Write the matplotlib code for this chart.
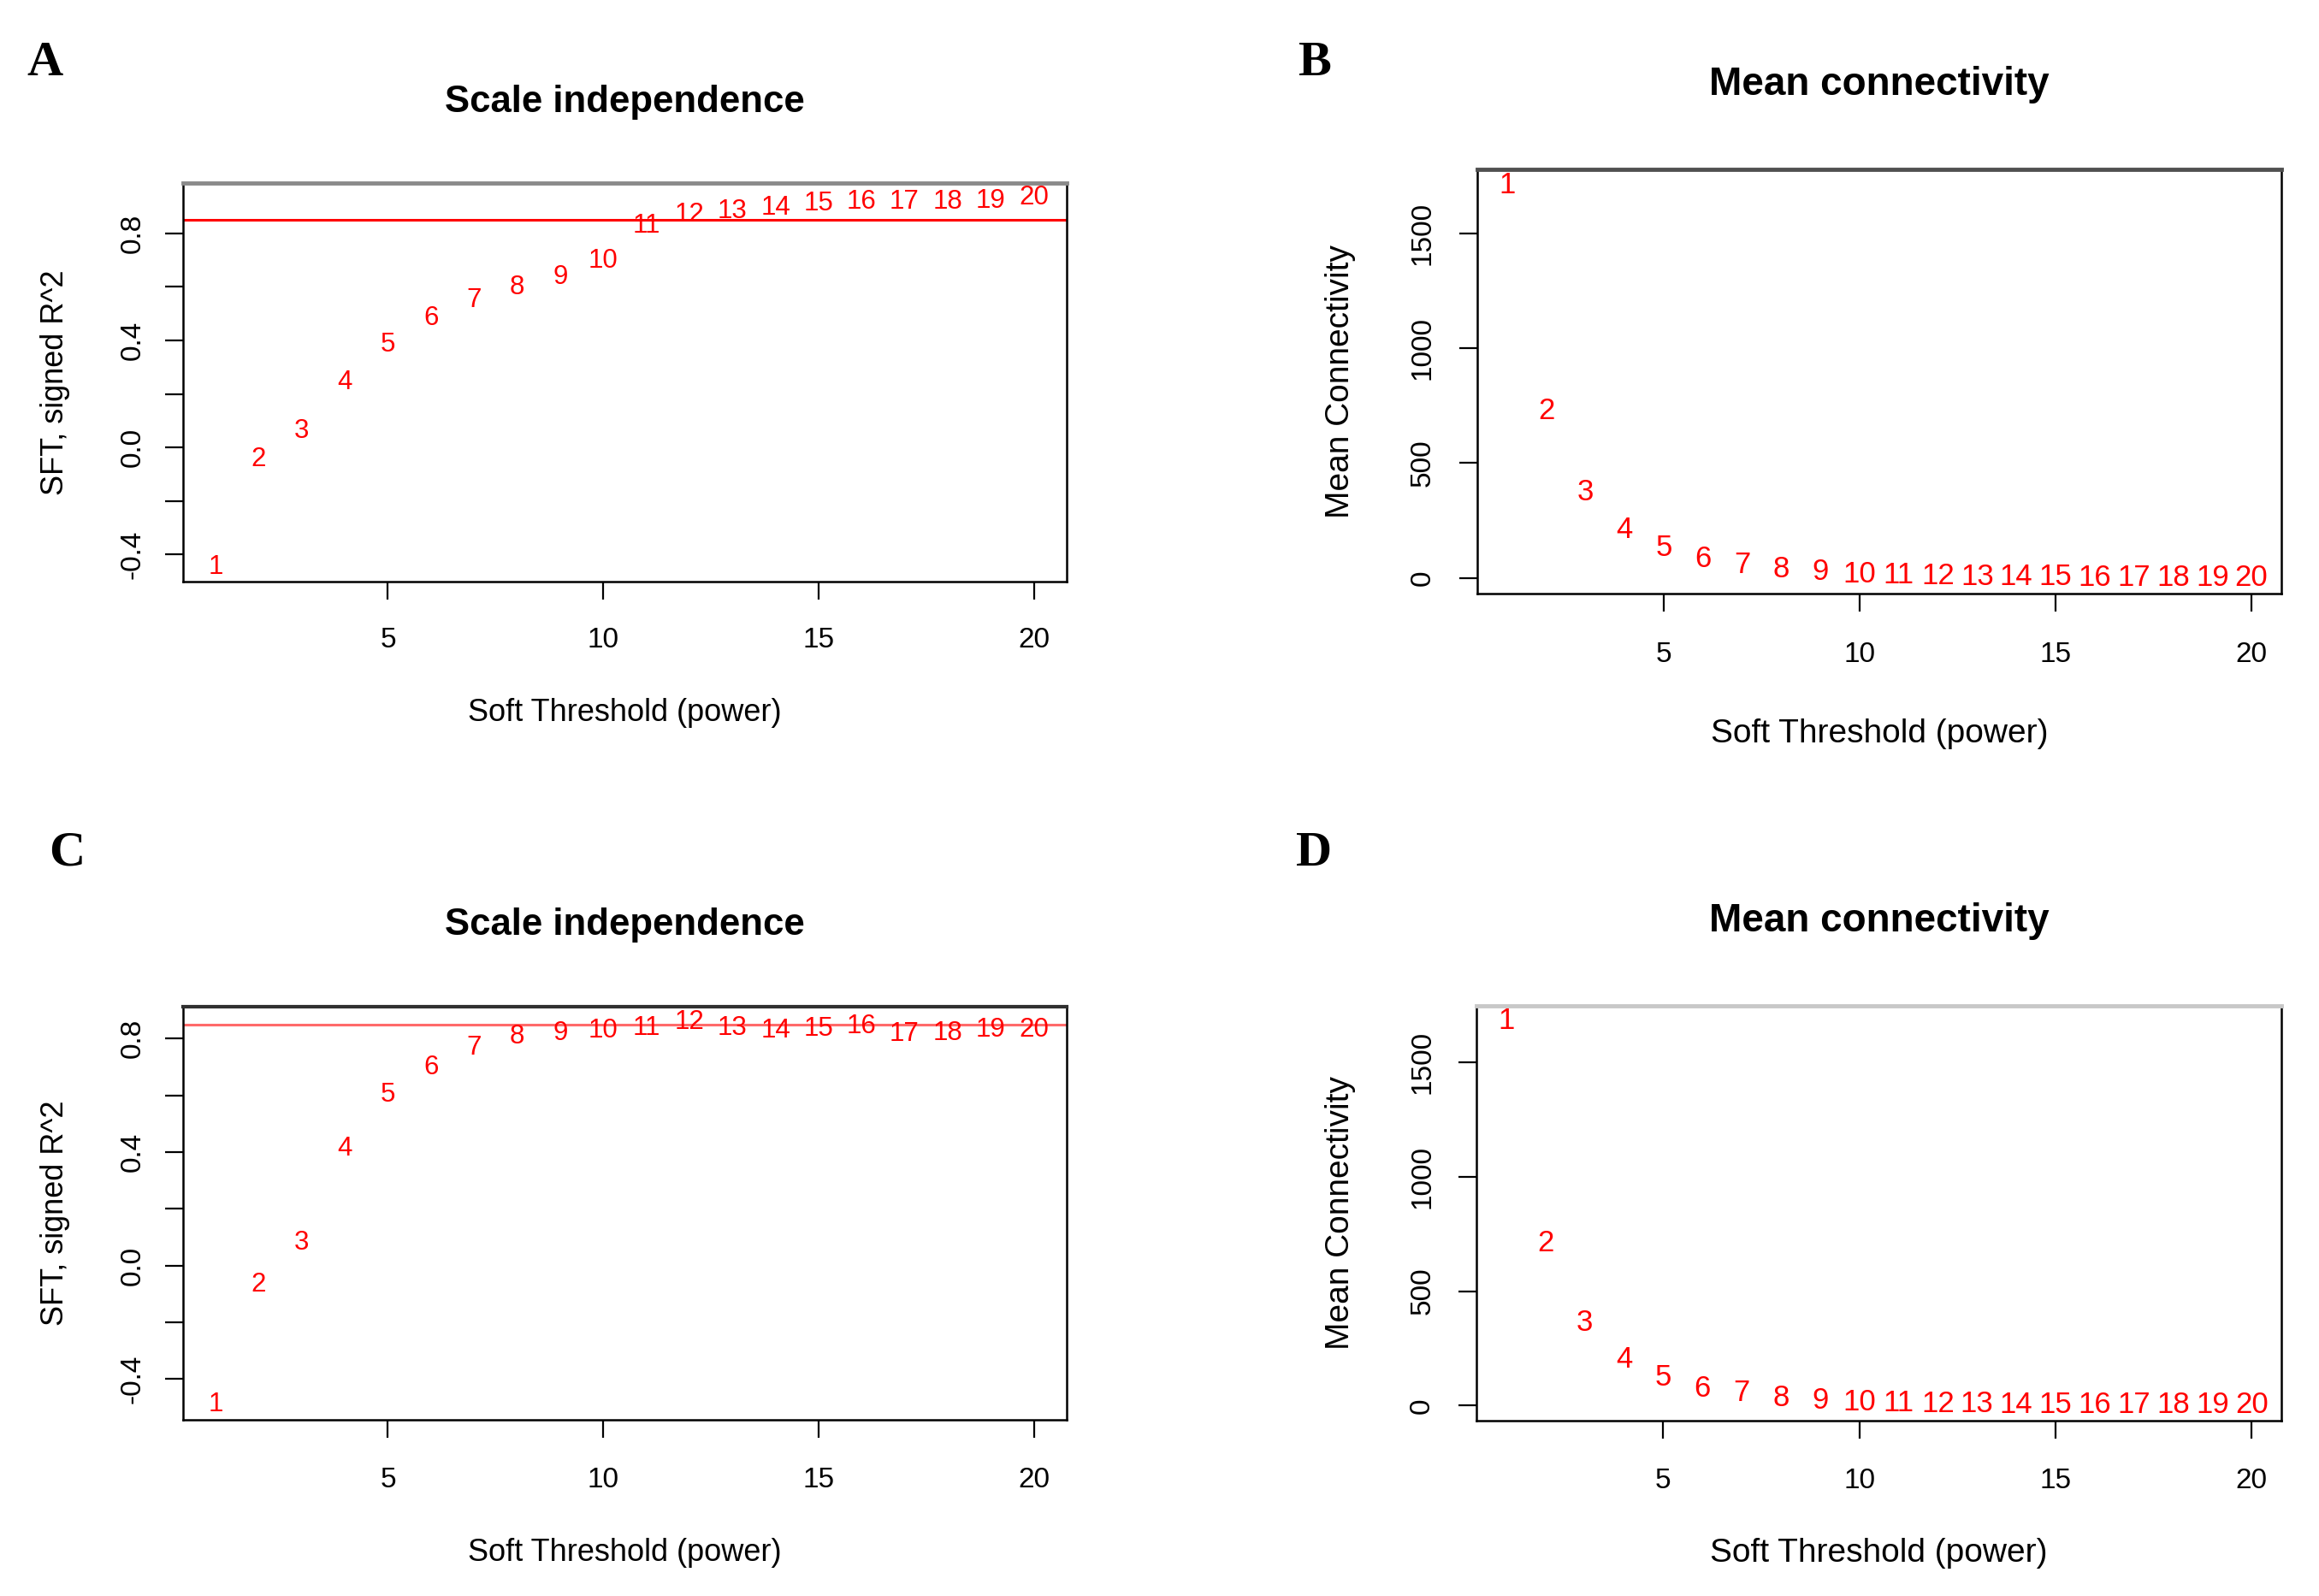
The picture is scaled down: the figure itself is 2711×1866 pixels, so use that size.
import matplotlib
matplotlib.use("Agg")
import matplotlib.pyplot as plt
import numpy as np

plt.rcParams['font.family'] = ['Liberation Sans', 'DejaVu Sans']
plt.rcParams['axes.unicode_minus'] = False

# ---------------- data ----------------
powers = list(range(1, 21))

# Panel A: scale independence (dataset 1)
sft_A = [-0.446, -0.043, 0.061, 0.243, 0.383, 0.483, 0.550, 0.597, 0.636, 0.697,
         0.829, 0.869, 0.883, 0.897, 0.911, 0.919, 0.919, 0.919, 0.921, 0.933]
# Panel B: mean connectivity (dataset 1)
mc_B = [1709, 728, 373, 211, 130, 82, 57, 39, 26, 16,
        11, 8, 6, 5, 4, 3, 2.5, 2, 1.5, 1.2]
# Panel C: scale independence (dataset 2)
sft_C = [-0.490, -0.067, 0.081, 0.411, 0.603, 0.699, 0.766, 0.807, 0.820, 0.827,
         0.838, 0.858, 0.838, 0.827, 0.834, 0.844, 0.817, 0.820, 0.831, 0.831]
# Panel D: mean connectivity (dataset 2)
mc_D = [1680, 708, 361, 201, 122, 75, 54, 34, 22, 14,
        9, 7, 5, 4, 3.5, 3, 2.5, 2, 1.5, 1.2]

cutoff = 0.85

x_ticks = [5, 10, 15, 20]
x_ticklabels = ["5", "10", "15", "20"]
sft_major = [-0.4, 0.0, 0.4, 0.8]
sft_major_labels = ["-0.4", "0.0", "0.4", "0.8"]
sft_minor = [-0.2, 0.2, 0.6]
mc_ticks = [0, 500, 1000, 1500]
mc_ticklabels = ["0", "500", "1000", "1500"]

titles = ["Scale independence", "Mean connectivity", "Scale independence", "Mean connectivity"]
xlab = "Soft Threshold (power)"
ylabs = ["SFT, signed R^2", "Mean Connectivity", "SFT, signed R^2", "Mean Connectivity"]
panel_letters = ["A", "B", "C", "D"]

# ---------------- layout ----------------
W, H = 2711, 1866
fig = plt.figure(figsize=(W / 100, H / 100), dpi=100)
fig.patch.set_facecolor("white")

rects = [
    [0.0789, 0.6356, 0.3810, 0.2497],
    [0.6370, 0.6281, 0.3467, 0.2658],
    [0.0789, 0.1104, 0.3810, 0.2588],
    [0.6367, 0.1099, 0.3471, 0.2599],
]
xlab_y = [-0.330, -0.331, -0.323, -0.320]
ylab_x = [-0.145, -0.170, -0.145, -0.169]
title_y = [1.185, 1.183, 1.180, 1.186]
letter_pos = [(52, 74), (1536, 74), (78, 998), (1536, 998)]
line_colors = ["#ff0000", None, "#ff6a6a", None]
top_spine = [("#8a8a8a", 3.5), ("#505050", 3.5), ("#303030", 3.0), ("#c8c8c8", 3.5)]
title_fs = [31.5, 33, 31.5, 33]
lab_fs = [26, 28, 26, 28]
red_fs = [22.5, 25, 22.5, 25]
ypad = [16, 19.5, 16, 19.5]
xpad = [23.5, 25, 24.5, 24.5]

series = [sft_A, mc_B, sft_C, mc_D]


def rlim(vals):
    lo, hi = min(vals), max(vals)
    r = hi - lo
    return lo - 0.04 * r, hi + 0.04 * r


for i in range(4):
    ax = fig.add_axes(rects[i])
    yv = series[i]
    for p, v in zip(powers, yv):
        ax.text(p, v, str(p), color="red", fontsize=red_fs[i], ha="center", va="center")
    ax.set_xlim(*rlim(powers))
    ax.set_ylim(*rlim(yv))
    if line_colors[i] is not None:
        ax.axhline(cutoff, color=line_colors[i], lw=2.2)

    ax.set_xticks(x_ticks)
    ax.set_xticklabels(x_ticklabels)
    if i in (0, 2):
        ax.set_yticks(sft_major)
        ax.set_yticklabels(sft_major_labels, rotation=90, va="center")
        ax.set_yticks(sft_minor, minor=True)
    else:
        ax.set_yticks(mc_ticks)
        ax.set_yticklabels(mc_ticklabels, rotation=90, va="center")

    ax.tick_params(axis="both", which="both", direction="out", length=15, width=1.6,
                   labelsize=24, color="black")
    ax.tick_params(axis="x", pad=xpad[i])
    ax.tick_params(axis="y", pad=ypad[i])
    for s in ax.spines.values():
        s.set_linewidth(1.8)
        s.set_color("black")
    ax.spines["top"].set_color(top_spine[i][0])
    ax.spines["top"].set_linewidth(top_spine[i][1])

    ax.set_title(titles[i], fontsize=title_fs[i], fontweight="bold", y=title_y[i], va="center")
    ax.set_xlabel(xlab, fontsize=lab_fs[i])
    ax.xaxis.set_label_coords(0.5, xlab_y[i])
    ax.xaxis.label.set_va("center")
    ax.set_ylabel(ylabs[i], fontsize=lab_fs[i])
    ax.yaxis.set_label_coords(ylab_x[i], 0.5)
    ax.yaxis.label.set_va("center")

    lx, ly = letter_pos[i]
    fig.text(lx / W, 1 - ly / H, panel_letters[i], fontsize=42, fontweight="bold",
             family=["Liberation Serif", "DejaVu Serif"], ha="center", va="center")

fig.savefig("out.png", dpi=100, facecolor="white")
